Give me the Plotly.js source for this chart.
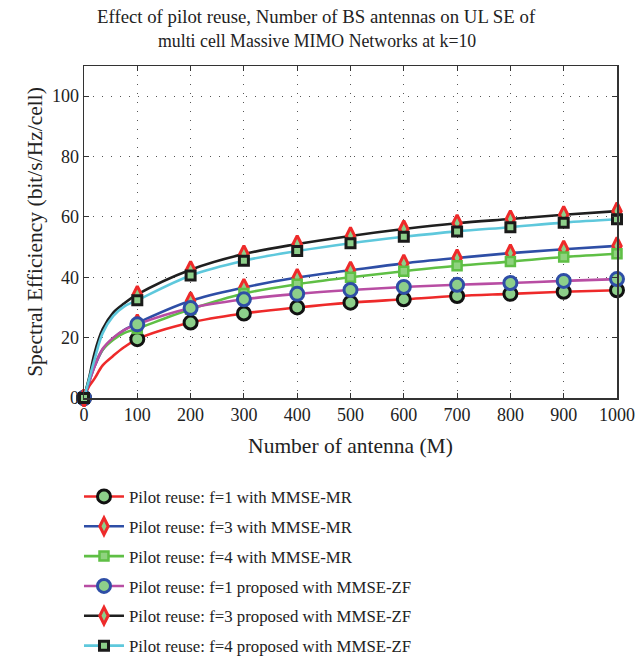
<!DOCTYPE html>
<html>
<head>
<meta charset="utf-8">
<script src="https://cdn.plot.ly/plotly-3.0.1.min.js"></script>
<style>html,body{margin:0;padding:0;background:#fff;} #chart{width:635px;height:658px;}</style>
</head>
<body>
<div id="chart"></div>
<script>
// Number of antennas (M)
const antennas = [0, 10, 20, 35, 55, 75, 100, 200, 300, 400, 500, 600, 700, 800, 900, 1000];

// Spectral efficiency (bit/s/Hz/cell)
const f1MR   = [0, 4.0, 6.5, 10.8, 14.0, 16.8, 19.5, 25.0, 28.0, 30.0, 31.6, 32.7, 33.8, 34.5, 35.2, 35.7];
const f3MR   = [0, 5.5, 10.5, 16.0, 19.8, 22.5, 24.8, 32.2, 36.6, 39.9, 42.3, 44.6, 46.4, 48.0, 49.3, 50.4];
const f4MR   = [0, 6.5, 11.0, 16.0, 19.3, 21.5, 23.0, 29.4, 34.6, 37.7, 40.0, 42.0, 43.8, 45.2, 46.7, 47.8];
const f1ZF   = [0, 5.5, 10.5, 16.3, 20.0, 22.5, 24.4, 29.8, 32.7, 34.5, 35.8, 36.8, 37.5, 38.1, 38.8, 39.4];
const f3ZF   = [0, 7.0, 15.0, 22.8, 28.3, 31.3, 34.3, 42.5, 47.7, 51.0, 53.7, 56.0, 57.9, 59.3, 60.7, 61.9];
const f4ZF   = [0, 6.5, 12.9, 21.5, 27.2, 30.3, 32.4, 40.6, 45.5, 48.7, 51.3, 53.4, 55.2, 56.6, 58.1, 59.2];

const seriesNames = [
  'Pilot reuse: f=1 with MMSE-MR',
  'Pilot reuse: f=3 with MMSE-MR',
  'Pilot reuse: f=4 with MMSE-MR',
  'Pilot reuse: f=1 proposed with MMSE-ZF',
  'Pilot reuse: f=3 proposed with MMSE-ZF',
  'Pilot reuse: f=4 proposed with MMSE-ZF'
];
const seriesValues = [f1MR, f3MR, f4MR, f1ZF, f3ZF, f4ZF];

const titleLines = [
  'Effect of pilot reuse, Number of BS antennas on UL SE of',
  'multi cell Massive MIMO Networks at k=10'
];

const mGreen = '#8dcf8a';
const styles = [
  {line: '#ee2a2a', symbol: 'circle',       size: 13, fill: mGreen, edge: '#111111', ew: 3},
  {line: '#2e4ea6', symbol: 'diamond-tall', size: 12, fill: mGreen, edge: '#ee2a2a', ew: 3},
  {line: '#5fbf45', symbol: 'square',       size: 9,  fill: '#8fd37f', edge: '#5fbf45', ew: 2.5},
  {line: '#b84da3', symbol: 'circle',       size: 13, fill: mGreen, edge: '#2e4ea6', ew: 3},
  {line: '#1f1f1f', symbol: 'diamond-tall', size: 12, fill: mGreen, edge: '#ee2a2a', ew: 3},
  {line: '#5ec8dc', symbol: 'square',       size: 9,  fill: mGreen, edge: '#1a1a1a', ew: 3}
];

const clear = 'rgba(0,0,0,0)';
const traces = seriesValues.map((vals, i) => {
  const s = styles[i];
  const isMark = antennas.map(m => m % 100 === 0);
  return {
    type: 'scatter',
    mode: 'lines+markers',
    name: seriesNames[i],
    legendgroup: 'g' + i,
    x: antennas,
    y: vals,
    cliponaxis: false,
    line: {color: s.line, width: 2.6, shape: 'spline', smoothing: 1},
    marker: {
      symbol: s.symbol,
      size: s.size,
      color: isMark.map(b => b ? s.fill : clear),
      line: {color: isMark.map(b => b ? s.edge : clear), width: s.ew}
    }
  };
});

const serif = '"Liberation Serif", "DejaVu Serif", serif';
const axisCommon = {
  showline: true, linecolor: '#333', linewidth: 1.5, mirror: 'ticks',
  ticks: 'inside', ticklen: 5, tickwidth: 1, tickcolor: '#333',
  showgrid: true, gridcolor: '#555', gridwidth: 1, griddash: '1px,8px',
  zeroline: false,
  tickfont: {family: serif, size: 18, color: '#222'}
};

const layout = {
  width: 635, height: 658,
  paper_bgcolor: '#fff', plot_bgcolor: '#fff',
  margin: {l: 84, r: 18, t: 66, b: 260, autoexpand: false},
  font: {family: serif, color: '#222'},
  annotations: [
    {text: titleLines[0], xref: 'paper', yref: 'paper', x: 0.437, y: 1.1506, xanchor: 'center', yanchor: 'middle',
     showarrow: false, font: {family: serif, size: 18.8, color: '#222'}},
    {text: titleLines[1], xref: 'paper', yref: 'paper', x: 0.437, y: 1.0753, xanchor: 'center', yanchor: 'middle',
     showarrow: false, font: {family: serif, size: 17.8, color: '#222'}}
  ],
  xaxis: Object.assign({}, axisCommon, {
    range: [0, 1000], dtick: 100, tick0: 0,
    title: {text: 'Number of antenna (M)', font: {family: serif, size: 21.5, color: '#222'}, standoff: 14}
  }),
  yaxis: Object.assign({}, axisCommon, {
    range: [0, 110], dtick: 20, tick0: 0,
    title: {text: 'Spectral Efficiency (bit/s/Hz/cell)', font: {family: serif, size: 21.5, color: '#222'}, standoff: 3}
  }),
  showlegend: true,
  legend: {
    x: -0.0094, xanchor: 'left', y: -0.244, yanchor: 'top',
    orientation: 'v',
    font: {family: serif, size: 16.8, color: '#222'},
    tracegroupgap: 5,
    itemwidth: 40,
    bgcolor: 'rgba(0,0,0,0)'
  }
};

Plotly.newPlot('chart', traces, layout, {displayModeBar: false, staticPlot: true});
</script>
</body>
</html>
